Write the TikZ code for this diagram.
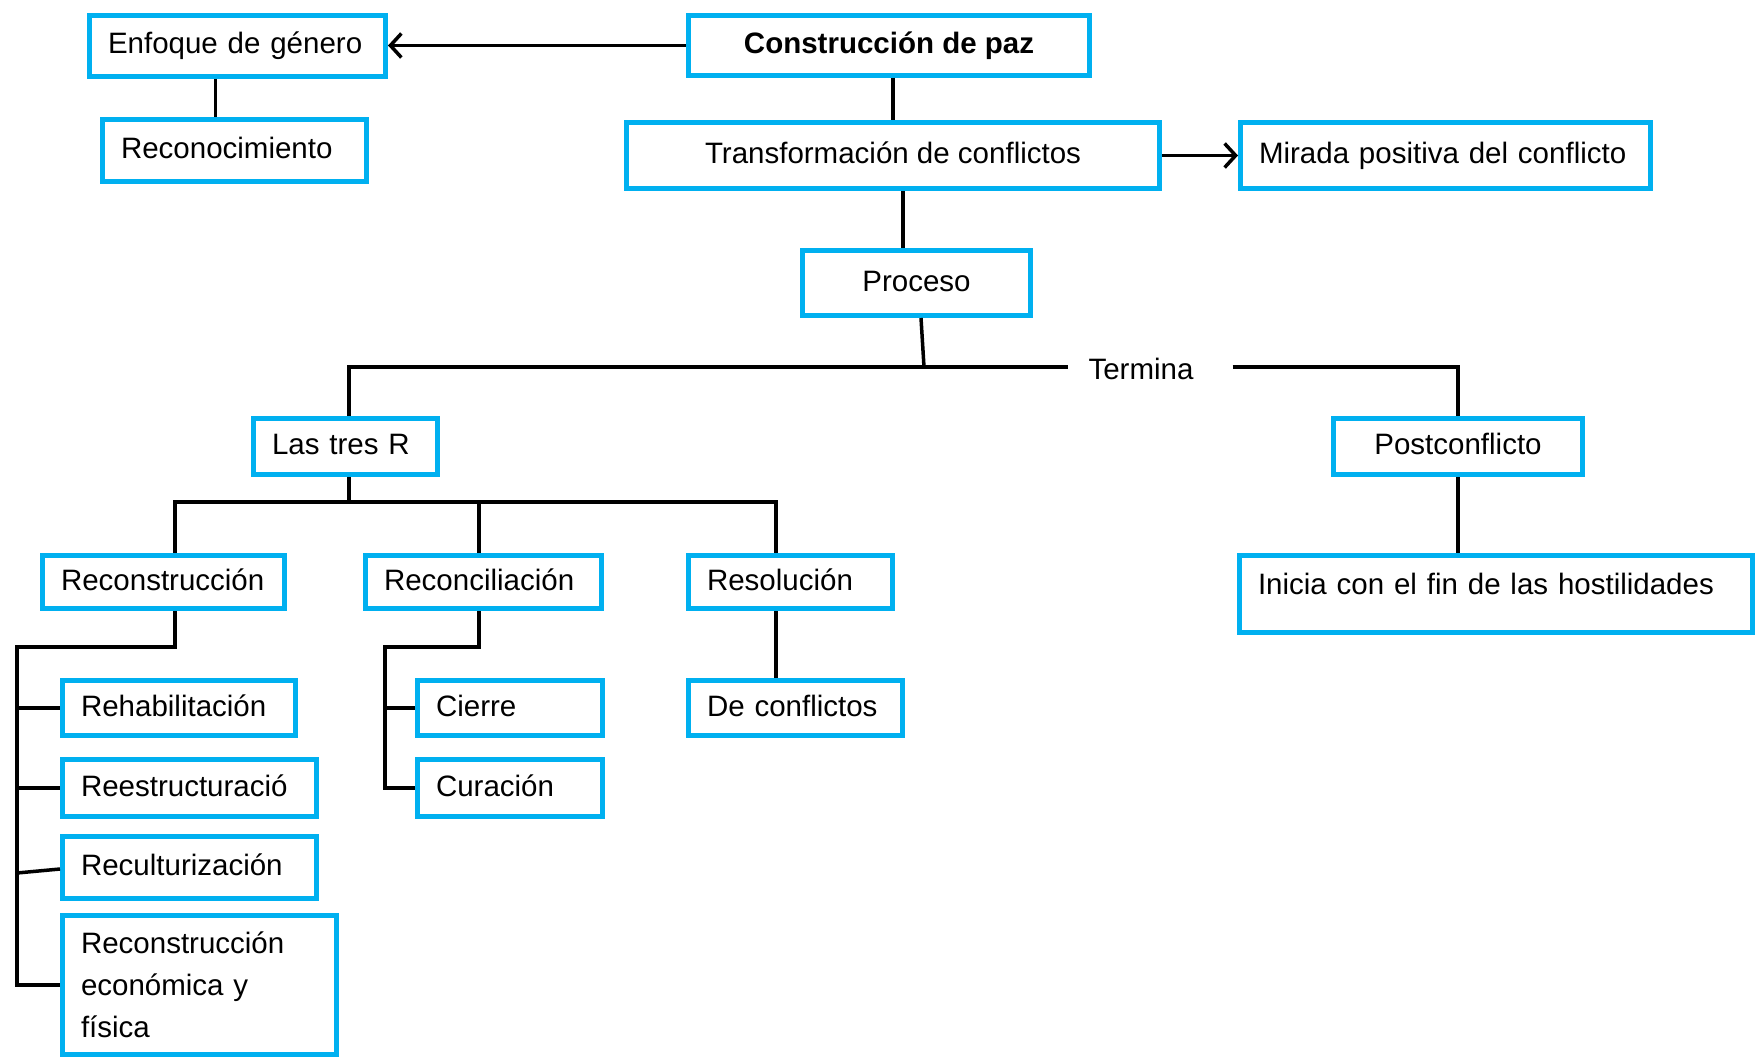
\documentclass[tikz,border=0pt]{standalone}
\usepackage{fontspec}
\setmainfont{Liberation Sans}
\usetikzlibrary{arrows.meta}
\definecolor{cy}{HTML}{00B0F0}
\begin{document}
\begin{tikzpicture}[x=1pt,y=-1pt,
  box/.style={draw=cy, line width=5pt, rectangle, inner ysep=0pt, font=\fontsize{29.5}{36}\selectfont, text=black},
  mbox/.style={box, align=left, inner xsep=18.5pt},
  lbox/.style={box, align=left, inner xsep=18.5pt, text height=22pt, text depth=6pt},
  cbox/.style={box, align=center, inner xsep=0pt, text height=22pt, text depth=6pt},
  conn/.style={line width=3.5pt, black},
  arr/.style={conn, -{Straight Barb[length=11pt,width=24pt]}},
]
\useasboundingbox (0,0) rectangle (1756,1057);

\node[lbox, text width=259pt, minimum height=61pt] (enf) at (237.5,46) {Enfoque de género};
\node[lbox, text width=227pt, minimum height=62pt] (rec) at (234.5,150.5) {Reconocimiento};
\node[cbox, minimum width=401pt, minimum height=60pt, font=\fontsize{29.5}{36}\selectfont\bfseries] (cons) at (889,45.5) {Construcción de paz};
\node[cbox, minimum width=533pt, minimum height=66pt] (trans) at (893,155.5) {Transformación de conflictos};
\node[lbox, text width=373pt, minimum height=66pt] (mir) at (1445.5,155.5) {Mirada positiva del conflicto};
\node[cbox, minimum width=228pt, minimum height=65pt] (proc) at (916.5,283) {Proceso};
\node[lbox, text width=147pt, minimum height=56pt] (tres) at (345.5,446.5) {Las tres R};
\node[cbox, minimum width=249pt, minimum height=56pt] (post) at (1458,446.5) {Postconflicto};
\node[lbox, text width=205pt, minimum height=53pt] (recons) at (163.5,582) {Reconstrucción};
\node[lbox, text width=199pt, minimum height=53pt] (reconc) at (483.5,582) {Reconciliación};
\node[lbox, text width=167pt, minimum height=53pt] (resol) at (790.5,582) {Resolución};
\node[lbox, text width=476pt, minimum height=77pt, text depth=22pt] (inicia) at (1496,594) {Inicia con el fin de las hostilidades};
\node[lbox, text width=196pt, minimum height=55pt] (rehab) at (179,708) {Rehabilitación};
\node[lbox, text width=217pt, minimum height=57pt] (reest) at (189.5,788) {Reestructuració};
\node[lbox, text width=217pt, minimum height=62pt] (recul) at (189.5,867.5) {Reculturización};
\node[mbox, text width=237pt, minimum height=138.5pt, font=\fontsize{29.5}{42}\selectfont] (recef) at (199.5,984.75) {Reconstrucción\\económica y\\física};
\node[lbox, text width=148pt, minimum height=55pt] (cierre) at (510,708) {Cierre};
\node[lbox, text width=148pt, minimum height=57pt] (cura) at (510,788) {Curación};
\node[lbox, text width=177pt, minimum height=55pt] (decon) at (795.5,708) {De conflictos};
\node[font=\fontsize{29.5}{36}\selectfont, inner sep=0pt] (term) at (1141,369) {Termina};

\coordinate (bus) at (924,367);
\coordinate (br) at (349,502);
\coordinate (lv) at (17,647);
\coordinate (rv) at (385,647);

\draw[arr] (cons.west) -- (cons.west -| enf.east);
\draw[conn] ([xshift=-22pt]enf.south) -- ([xshift=-22pt]enf.south |- rec.north);
\draw[conn] (cons.south -| trans.north) -- (trans.north);
\draw[arr] (trans.east) -- (mir.west);
\draw[conn] ([xshift=10pt]trans.south) -- ([xshift=10pt]trans.south |- proc.north);
\draw[conn] ([xshift=4.5pt]proc.south) -- (bus);
\draw[conn] (bus) -| ([xshift=3.5pt]tres.north);
\draw[conn] (bus) -- ([xshift=-20pt]term.west |- bus);
\draw[conn] ([xshift=39pt]term.east |- bus) -| (post.north);
\draw[conn] (post.south) -- (post.south |- inicia.north);
\draw[conn] ([xshift=3.5pt]tres.south) -- (br);
\draw[conn] (br) -| ([xshift=11.5pt]recons.north);
\draw[conn] (br) -| ([xshift=-4.5pt]reconc.north);
\draw[conn] (br) -| ([xshift=-14.5pt]resol.north);
\draw[conn] ([xshift=11.5pt]recons.south) |- (lv) |- (recef.west);
\draw[conn] (lv |- rehab.west) -- (rehab.west);
\draw[conn] (lv |- reest.west) -- (reest.west);
\draw[conn] ([yshift=-5.5pt]lv |- recul.west) -- ([yshift=-1.5pt]recul.west);
\draw[conn] ([xshift=-4.5pt]reconc.south) |- (rv) |- (cura.west);
\draw[conn] (rv |- cierre.west) -- (cierre.west);
\draw[conn] ([xshift=-14.5pt]resol.south) -- ([xshift=-14.5pt]resol.south |- decon.north);
\end{tikzpicture}
\end{document}
